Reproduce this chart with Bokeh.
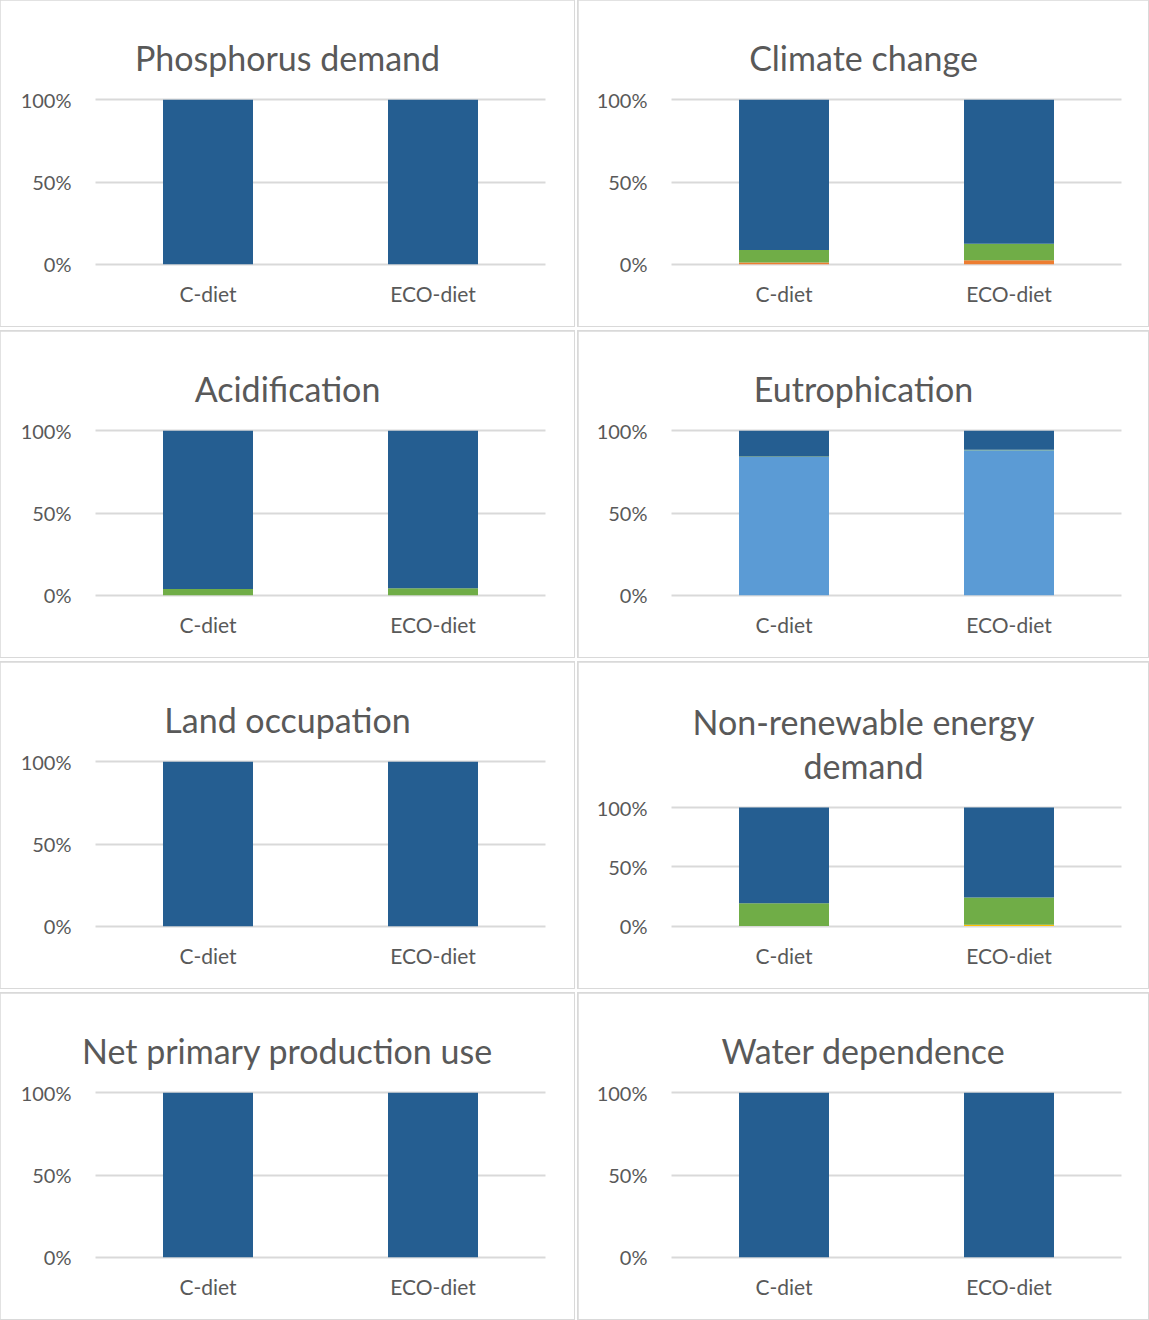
from bokeh.plotting import figure
from bokeh.models import ColumnDataSource, FactorRange, Range1d, FixedTicker, PrintfTickFormatter, Label
from bokeh.layouts import column, row
from bokeh.embed import file_html
from bokeh.resources import INLINE

# ---------------- data ----------------
categories = ["C-diet", "ECO-diet"]
titles = ["Phosphorus demand", "Climate change", "Acidification", "Eutrophication",
          "Land occupation", "Non-renewable energy\ndemand",
          "Net primary production use", "Water dependence"]
y_ticks = [0, 50, 100]

series_names = ["orange", "gold", "light_blue", "green", "dark_blue"]
series_colors = ["#ED7D31", "#FFC000", "#5B9BD5", "#70AD47", "#255E91"]

# share (%) of each contributor, one value per panel (same order as titles)
orange_c = [0, 1.0, 0, 0, 0, 0, 0, 0]
orange_eco = [0, 2.4, 0, 0, 0, 0, 0, 0]
gold_c = [0, 0, 0, 0, 0, 0, 0, 0]
gold_eco = [0, 0, 0, 0, 0, 1.0, 0, 0]
light_blue_c = [0, 0, 0, 84.0, 0, 0, 0, 0]
light_blue_eco = [0, 0, 0, 88.2, 0, 0, 0, 0]
green_c = [0, 7.7, 3.7, 0.3, 0, 19.2, 0, 0]
green_eco = [0, 10.0, 4.3, 0.3, 0, 23.0, 0, 0]
dark_blue_c = [100, 91.3, 96.3, 15.7, 100, 80.8, 100, 100]
dark_blue_eco = [100, 87.6, 95.7, 11.5, 100, 76.0, 100, 100]

series_c = [orange_c, gold_c, light_blue_c, green_c, dark_blue_c]
series_eco = [orange_eco, gold_eco, light_blue_eco, green_eco, dark_blue_eco]

# ---------------- styling / geometry (pixels inside each panel) ----------------
FONT = "Lato"
TEXT = "#595959"
GRID = "#D9D9D9"
FIG_W = [574, 570]
FIG_H = 326
H_SPACING = 4
V_SPACING = 5
EXTRA = 18                      # extra frame room on both sides (for wide titles)
left_border = [95 - EXTRA, 93 - EXTRA]
right_border = [29 - EXTRA, 27 - EXTRA]
FRAME_TOP, FRAME_BOTTOM = 10, 267
CAT_PX = 225                    # pixels per category
TITLE_CENTER_FROM_PLOT_LEFT = 192
TITLE_LINE_GAP = 44


def make_panel(i):
    r, c = divmod(i, 2)
    data = {"diet": categories}
    for name, sc, se in zip(series_names, series_c, series_eco):
        data[name] = [sc[i], se[i]]
    src = ColumnDataSource(data)

    lines = titles[i].split("\n")
    # pixel rows of the 100% and 0% gridlines; two-line titles push the plot down
    y100, y0 = (145.0, 263.5) if len(lines) > 1 else (99.3, 263.7)
    ppu = (y0 - y100) / 100.0
    lo = -(FRAME_BOTTOM - y0) / ppu
    hi = 100 + (y100 - FRAME_TOP) / ppu

    pad = EXTRA / CAT_PX
    xr = FactorRange(*categories, range_padding=pad, range_padding_units="percent")

    p = figure(x_range=xr, y_range=Range1d(lo, hi),
               width=FIG_W[c], height=FIG_H, output_backend="svg", toolbar_location=None,
               min_border_left=left_border[c], min_border_right=right_border[c],
               min_border_top=FRAME_TOP, min_border_bottom=FIG_H - FRAME_BOTTOM)
    p.styles = {"outline": "2px solid #D9D9D9", "outline-offset": "-1px"}
    p.vbar_stack(series_names, x="diet", width=0.4, source=src,
                 color=series_colors, line_color=None)

    # chart title, centred on the whole panel (as in the spreadsheet chart)
    tx = TITLE_CENTER_FROM_PLOT_LEFT / CAT_PX
    first_baseline = y100 - 42 - TITLE_LINE_GAP * (len(lines) - 1)
    for k, line in enumerate(lines):
        baseline = first_baseline + TITLE_LINE_GAP * k
        p.add_layout(Label(x=tx, y=100 + (y100 - baseline) / ppu,
                           text=line, text_font=FONT, text_font_size="34px",
                           text_color=TEXT, text_align="center",
                           text_baseline="alphabetic"))

    p.outline_line_color = None
    p.background_fill_color = "white"
    p.border_fill_color = "white"

    p.xgrid.grid_line_color = None
    p.ygrid.grid_line_color = GRID
    p.ygrid.grid_line_width = 2
    g = p.ygrid[0]
    if "cross_bounds" in g.properties():
        g.cross_bounds = (0, len(categories))

    p.yaxis.ticker = FixedTicker(ticks=y_ticks)
    p.yaxis.formatter = PrintfTickFormatter(format="%d%%")
    for ax in (p.xaxis, p.yaxis):
        ax.axis_line_color = None
        ax.major_tick_line_color = None
        ax.minor_tick_line_color = None
        ax.major_label_text_font = FONT
        ax.major_label_text_color = TEXT
    p.yaxis.major_label_text_font_size = "20px"
    p.xaxis.major_label_text_font_size = "21px"
    p.yaxis.major_label_standoff = max(0, 17 - EXTRA)
    p.xaxis.major_label_standoff = 7
    return p


panels = [make_panel(i) for i in range(8)]
layout = column(*[row(panels[2 * k], panels[2 * k + 1], spacing=H_SPACING) for k in range(4)],
                spacing=V_SPACING)

open("out.html", "w").write(file_html(layout, INLINE))
